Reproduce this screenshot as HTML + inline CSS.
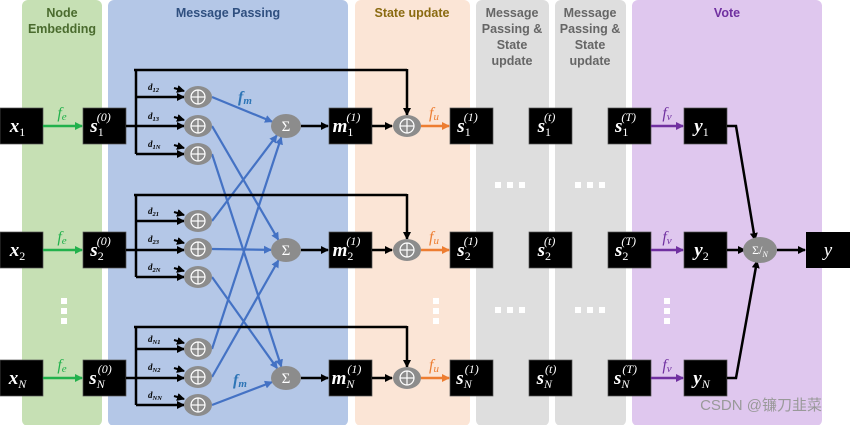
<!DOCTYPE html>
<html><head><meta charset="utf-8">
<style>
html,body{margin:0;padding:0;background:#fff;}
svg{display:block;}
text{font-family:"Liberation Serif",serif;}
.t{font-family:"Liberation Sans","DejaVu Sans",sans-serif;font-weight:bold;font-size:12.5px;text-anchor:middle;}
</style></head><body>
<svg id="s" width="850" height="425" viewBox="0 0 850 425" xmlns="http://www.w3.org/2000/svg">
<defs>
<marker id="ak" markerWidth="8" markerHeight="8" refX="7" refY="4" orient="auto" markerUnits="userSpaceOnUse"><path d="M0,0 L8,4 L0,8 z" fill="#000"/></marker>
<marker id="ab" markerWidth="8" markerHeight="8" refX="7" refY="4" orient="auto" markerUnits="userSpaceOnUse"><path d="M0,0 L8,4 L0,8 z" fill="#4472c4"/></marker>
<marker id="ag" markerWidth="8" markerHeight="8" refX="7" refY="4" orient="auto" markerUnits="userSpaceOnUse"><path d="M0,0 L8,4 L0,8 z" fill="#22b14c"/></marker>
<marker id="ao" markerWidth="8" markerHeight="8" refX="7" refY="4" orient="auto" markerUnits="userSpaceOnUse"><path d="M0,0 L8,4 L0,8 z" fill="#ed7d31"/></marker>
<marker id="ap" markerWidth="8" markerHeight="8" refX="7" refY="4" orient="auto" markerUnits="userSpaceOnUse"><path d="M0,0 L8,4 L0,8 z" fill="#7030a0"/></marker>
</defs>
<rect x="22" y="0" width="80" height="426" rx="6" fill="#c6e0b4"/>
<rect x="108" y="0" width="240" height="426" rx="6" fill="#b4c7e7"/>
<rect x="355" y="0" width="115" height="426" rx="6" fill="#fbe5d6"/>
<rect x="476" y="0" width="73" height="426" rx="6" fill="#dedede"/>
<rect x="555" y="0" width="71" height="426" rx="6" fill="#dedede"/>
<rect x="632" y="0" width="190" height="426" rx="6" fill="#dfc7ee"/>
<text class="t" x="62" y="17" fill="#4a6b2e">Node</text>
<text class="t" x="62" y="33" fill="#4a6b2e">Embedding</text>
<text class="t" x="228" y="17" fill="#2f4f7f">Message Passing</text>
<text class="t" x="412" y="17" fill="#8a6a10">State update</text>
<g fill="#666"><text class="t" x="512" y="17">Message</text><text class="t" x="512" y="33">Passing &amp;</text><text class="t" x="512" y="49">State</text><text class="t" x="512" y="65">update</text>
<text class="t" x="590" y="17">Message</text><text class="t" x="590" y="33">Passing &amp;</text><text class="t" x="590" y="49">State</text><text class="t" x="590" y="65">update</text></g>
<text class="t" x="727" y="17" fill="#7030a0">Vote</text>
<g id="g"></g>
<text x="822" y="410" text-anchor="end" font-size="15" fill="#999" style="font-family:'Liberation Sans','Noto Sans CJK SC',sans-serif">CSDN @镰刀韭菜</text>
</svg>
<script>
var g=document.getElementById('g'),h='';
function box(x,y,w,lab,sub,sup){h+='<rect x="'+x+'" y="'+(y-18)+'" width="'+w+'" height="36" fill="#000" stroke="#555" stroke-width="0.7"/>';
h+='<text x="'+(x+w/2-4)+'" y="'+(y+6)+'" fill="#fff" font-size="19" font-weight="bold" font-style="italic" text-anchor="middle">'+lab+'<tspan font-size="12" font-weight="normal" font-style="'+(/^[0-9]$/.test(sub)?'normal':'italic')+'" dy="4">'+sub+'</tspan>'+(sup?'<tspan font-size="12" font-weight="normal" dx="-7" dy="-15">('+sup+')</tspan>':'')+'</text>';}
function ln(x1,y1,x2,y2,c,m,w){h+='<line x1="'+x1+'" y1="'+y1+'" x2="'+x2+'" y2="'+y2+'" stroke="'+c+'" stroke-width="'+(w||2.5)+'"'+(m?' marker-end="url(#'+m+')"':'')+'/>';}
function ell(x,y,t,rx){rx=rx||14;h+='<ellipse cx="'+x+'" cy="'+y+'" rx="'+rx+'" ry="'+(t=='p'?11:12)+'" fill="#8c8c8c"/>';
if(t=='p'){h+='<circle cx="'+x+'" cy="'+y+'" r="7" fill="none" stroke="#fff" stroke-width="1.2"/><line x1="'+(x-7)+'" y1="'+y+'" x2="'+(x+7)+'" y2="'+y+'" stroke="#fff" stroke-width="1.2"/><line x1="'+x+'" y1="'+(y-7)+'" x2="'+x+'" y2="'+(y+7)+'" stroke="#fff" stroke-width="1.2"/>';}
else h+='<text x="'+x+'" y="'+(y+5)+'" fill="#fff" font-size="15" text-anchor="middle">'+t+'</text>';}
var rows=[126,250,378],subs=['1','2','N'],dn=[['12','13','1N'],['21','23','2N'],['N1','N2','NN']];
var pl=[[97,126,154],[221,249,277],[349,377,405]],fb=[70,195,327];
for(var r=0;r<3;r++)for(var k=0;k<3;k++){var y0=pl[r][k],y1=rows[k];var dx=286-212,dy=y1-y0,L=Math.sqrt(dx*dx+dy*dy);ln(212,y0,286-15*dx/L,y1-12*dy/L,'#4472c4','ab',2.2);}
for(var r=0;r<3;r++){var y=rows[r],s=subs[r];
box(0,y,43,'x',s);ln(43,y,82,y,'#22b14c','ag');h+='<text x="62" y="'+(y-8)+'" fill="#22b14c" font-size="16" font-style="italic" text-anchor="middle">f<tspan font-size="11" dy="2">e</tspan></text>';
box(83,y,43,'s',s,'0');
ln(126,y,184,y,'#000','ak');ln(136,fb[r],136,pl[r][2],'#000',null);
ln(136,pl[r][0],184,pl[r][0],'#000','ak');ln(136,pl[r][2],184,pl[r][2],'#000','ak');
ln(134,fb[r],407,fb[r],'#000',null);ln(407,fb[r]-1,407,y-11,'#000','ak');
for(var k=0;k<3;k++){var py=pl[r][k];ell(198,py,'p');ln(174,py-9,184,py-6,'#000','ak',2);
h+='<text x="148" y="'+(py-7)+'" font-size="9" font-weight="bold" font-style="italic">d<tspan font-size="6.5" dy="2">'+dn[r][k]+'</tspan></text>';}
ell(286,y,'Σ',15);ln(301,y,328,y,'#000','ak');box(329,y,43,'m',s,'1');ln(372,y,392,y,'#000','ak');ell(407,y,'p');
ln(421,y,449,y,'#ed7d31','ao');h+='<text x="434" y="'+(y-8)+'" fill="#ed7d31" font-size="16" font-style="italic" text-anchor="middle">f<tspan font-size="11" dy="2">u</tspan></text>';
box(450,y,43,'s',s,'1');box(529,y,43,'s',s,'t');box(608,y,43,'s',s,'T');
ln(651,y,683,y,'#7030a0','ap');h+='<text x="667" y="'+(y-8)+'" fill="#7030a0" font-size="16" font-style="italic" text-anchor="middle">f<tspan font-size="11" dy="2">v</tspan></text>';
box(684,y,43,'y',s);}
h+='<text x="238" y="102" fill="#2e75b6" font-size="16" font-style="italic" font-weight="bold">f<tspan font-size="11" dy="2">m</tspan></text>';
h+='<text x="233" y="385" fill="#2e75b6" font-size="16" font-style="italic" font-weight="bold">f<tspan font-size="11" dy="2">m</tspan></text>';
h+='<polyline points="727,126 736,126 755,240" fill="none" stroke="#000" stroke-width="2.5" marker-end="url(#ak)"/>';
ln(727,250,745,250,'#000','ak');
h+='<polyline points="727,378 736,378 757,261" fill="none" stroke="#000" stroke-width="2.5" marker-end="url(#ak)"/>';
h+='<ellipse cx="760" cy="250" rx="17" ry="13" fill="#8c8c8c"/><text x="760" y="254" fill="#fff" font-size="12" text-anchor="middle">Σ/<tspan font-size="8" font-style="italic" dy="3">N</tspan></text>';
ln(777,250,805,250,'#000','ak');
h+='<rect x="806" y="232" width="44" height="36" fill="#000"/><text x="828" y="256" fill="#fff" font-size="19" font-style="italic" text-anchor="middle">y</text>';
function vd(x){for(var i=0;i<3;i++)h+='<rect x="'+(x-3)+'" y="'+(298+i*10)+'" width="6" height="6" fill="#fff"/>';}
function hd(x,y){for(var i=0;i<3;i++)h+='<rect x="'+(x-15+i*12)+'" y="'+(y-3)+'" width="6" height="6" fill="#fff"/>';}
vd(64);vd(436);vd(667);hd(510,185);hd(590,185);hd(510,310);hd(590,310);
g.innerHTML=h;
</script>
</body></html>
